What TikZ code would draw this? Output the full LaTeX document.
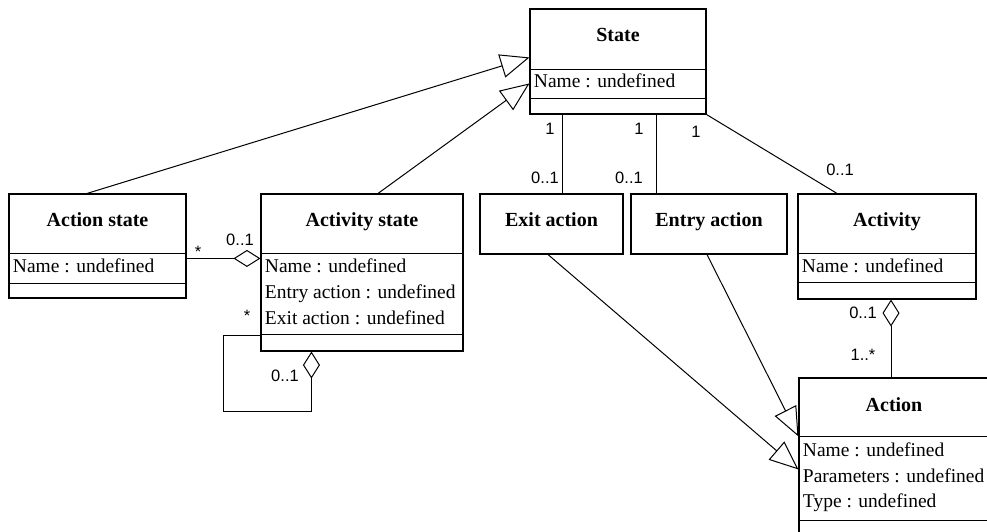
\documentclass[tikz,border=0pt]{standalone}
\usepackage{fontspec}
\setmainfont{Liberation Serif}
\newfontfamily\msans{Liberation Sans}
\usetikzlibrary{arrows.meta,calc}
\begin{document}
\begin{tikzpicture}[x=1pt,y=-1pt, line width=1pt,
  cls/.style={draw, line width=1.1pt, inner sep=0pt},
  divl/.style={line width=1.1pt},
  ttl/.style={font=\fontsize{20}{24}\selectfont\bfseries, anchor=base, inner sep=0pt},
  attr/.style={font=\fontsize{19.5}{23}\selectfont, anchor=base west, inner sep=0pt},
  mult/.style={font=\msans\fontsize{16.5}{20}\selectfont, anchor=base, inner sep=0pt},
  gen/.style={-{Triangle[open,length=29pt,width=24pt]}},
  aggr/.style={-{Diamond[open,length=27pt,width=17pt]}}]
\useasboundingbox (0,0) rectangle (987,532);
\clip (0,0) rectangle (987,532);

% State
\node[cls, minimum width=176pt, minimum height=105pt] (state) at (618,61.5) {};
\draw[divl] ($(state.north west)+(0,61)$) -- ($(state.north east)+(0,61)$);
\draw[divl] ($(state.north west)+(0,90)$) -- ($(state.north east)+(0,90)$);
\node[ttl] (statet) at ($(state.north)+(0,33)$) {State};
\node[attr] (statea) at ($(state.north west)+(4,79)$) {Name : undefined};

% Action state
\node[cls, minimum width=177pt, minimum height=104pt] (astate) at (97.5,246) {};
\draw[divl] ($(astate.north west)+(0,60)$) -- ($(astate.north east)+(0,60)$);
\draw[divl] ($(astate.north west)+(0,90)$) -- ($(astate.north east)+(0,90)$);
\node[ttl] (astatet) at ($(astate.north)+(0,33)$) {Action state};
\node[attr] (astatea) at ($(astate.north west)+(4,79)$) {Name : undefined};

% Activity state
\node[cls, minimum width=202pt, minimum height=157pt] (actst) at (362,272.5) {};
\draw[divl] ($(actst.north west)+(0,60)$) -- ($(actst.north east)+(0,60)$);
\draw[divl] ($(actst.north west)+(0,141)$) -- ($(actst.north east)+(0,141)$);
\node[ttl] (actstt) at ($(actst.north)+(0,33)$) {Activity state};
\node[attr] (actsta) at ($(actst.north west)+(4,79)$) {Name : undefined};
\node[attr] (actstb) at ($(actst.north west)+(4,105)$) {Entry action : undefined};
\node[attr] (actstc) at ($(actst.north west)+(4,131)$) {Exit action : undefined};

% Exit action
\node[cls, minimum width=143pt, minimum height=60pt] (exit) at (551.5,224) {};
\node[ttl] (exitt) at ($(exit.north)+(0,33)$) {Exit action};

% Entry action
\node[cls, minimum width=156pt, minimum height=60pt] (entry) at (709,224) {};
\node[ttl] (entryt) at ($(entry.north)+(0,33)$) {Entry action};

% Activity
\node[cls, minimum width=178pt, minimum height=105pt] (activity) at (887,246.5) {};
\draw[divl] ($(activity.north west)+(0,60)$) -- ($(activity.north east)+(0,60)$);
\draw[divl] ($(activity.north west)+(0,89)$) -- ($(activity.north east)+(0,89)$);
\node[ttl] (activityt) at ($(activity.north)+(0,33)$) {Activity};
\node[attr] (activitya) at ($(activity.north west)+(4,79)$) {Name : undefined};

% Action
\node[cls, minimum width=190pt, minimum height=167pt] (action) at (894,461.5) {};
\draw[divl] ($(action.north west)+(0,59)$) -- ($(action.north east)+(0,59)$);
\draw[divl] ($(action.north west)+(0,143)$) -- ($(action.north east)+(0,143)$);
\node[ttl] (actiont) at ($(action.north)+(0,34)$) {Action};
\node[attr] (actiona) at ($(action.north west)+(4,79)$) {Name : undefined};
\node[attr] (actionb) at ($(action.north west)+(4,105)$) {Parameters : undefined};
\node[attr] (actionc) at ($(action.north west)+(4,130)$) {Type : undefined};

% Generalizations
\draw[gen] ($(astate.north)+(-10.5,0)$) -- ($(state.north west)+(0,49)$);
\draw[gen] ($(actst.north)+(16,0)$) -- ($(state.north west)+(0,75)$);
\draw[gen] ($(exit.south)+(-3.5,0)$) -- ($(action.north west)+(0,92)$);
\draw[gen] ($(entry.south)+(-2,0)$) -- ($(action.north west)+(0,59)$);

% Aggregations
\draw[aggr] ($(astate.north east)+(0,65)$) -- ($(actst.north west)+(0,65)$);
\draw[aggr] ($(actst.north west)+(0,142)$) -- ++(-37,0) -- ++(0,76) -| ($(actst.south west)+(51,0)$);
\coordinate (aa) at ($(activity.south)+(4,0)$);
\draw[aggr] (aa |- action.north) -- (aa);

% Associations
\coordinate (ex) at ($(exit.north)+(10.5,0)$);
\draw (ex |- state.south) -- (ex);
\coordinate (en) at ($(entry.north)+(-53,0)$);
\draw (en |- state.south) -- (en);
\draw (state.south east) -- ($(activity.north)+(-50,0)$);

% Multiplicities
\node[mult] (m1) at (198,257) {*};
\node[mult] (m2) at (240,245) {0..1};
\node[mult] (m3) at (247,321) {*};
\node[mult] (m4) at (285,381) {0..1};
\node[mult] (m5) at (550,135) {1};
\node[mult] (m6) at (545,183) {0..1};
\node[mult] (m7) at (639,135) {1};
\node[mult] (m8) at (629,183) {0..1};
\node[mult] (m9) at (696,137) {1};
\node[mult] (m10) at (840,175) {0..1};
\node[mult] (m11) at (863,318) {0..1};
\node[mult] (m12) at (863,360) {1..*};
\end{tikzpicture}
\end{document}
